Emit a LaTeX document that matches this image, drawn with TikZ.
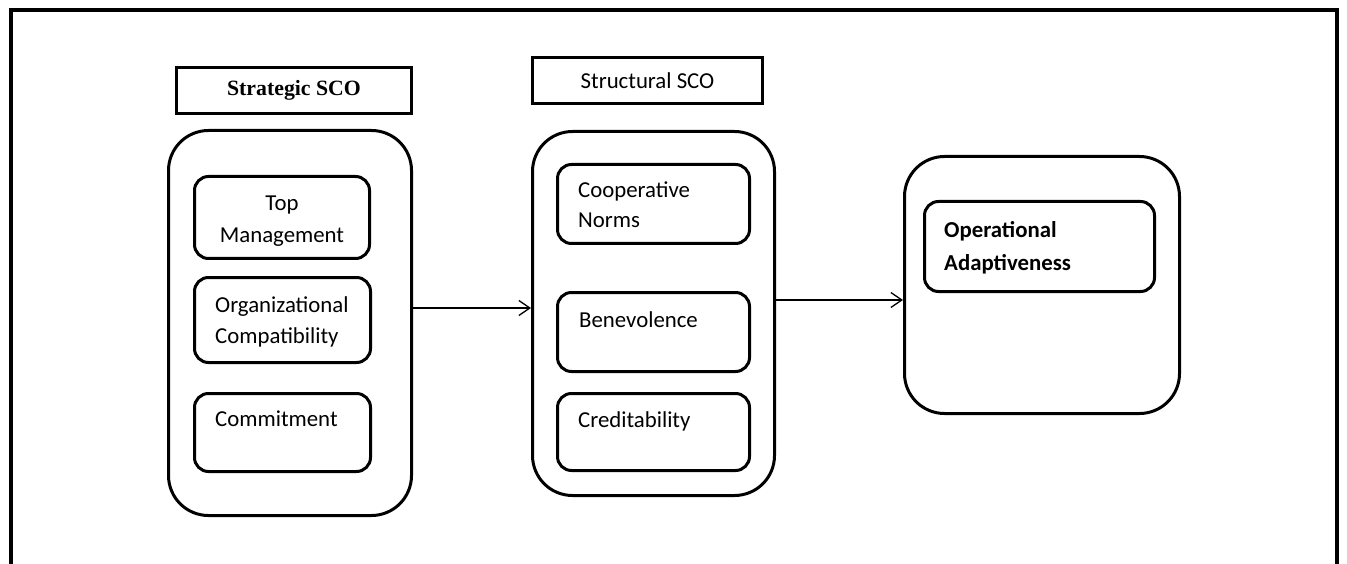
\documentclass[tikz,border=0pt]{standalone}
\usepackage{fontspec}
\setmainfont{Carlito}
\newfontfamily\headfont{Liberation Serif}
\usetikzlibrary{arrows.meta}

\begin{document}
\begin{tikzpicture}[x=1pt,y=-1pt,>={Straight Barb[length=11pt,width=15pt]}]
\tikzstyle{frame} = [draw=black, line width=4pt]
\tikzstyle{heading} = [rectangle, draw=black, line width=3pt, inner sep=0pt]
\tikzstyle{group} = [rectangle, rounded corners=40pt, draw=black, line width=3pt]
\tikzstyle{factor} = [rectangle, rounded corners=14pt, draw=black, line width=3pt]
\tikzstyle{factortext} = [anchor=base west, inner sep=0pt, align=left, font=\fontsize{22.8}{31}\selectfont]
\tikzstyle{link} = [->, line width=1.3pt]

\useasboundingbox (0,0) rectangle (1347,564);
\draw[frame] (11,10) rectangle (1337,566);

% strategic column
\node(strategicHead) [heading, minimum width=235pt, minimum height=46pt,
  font=\headfont\bfseries\fontsize{21.8}{26}\selectfont] at (294,90.5) {Strategic SCO};
\node(strategicGroup) [group, minimum width=243pt, minimum height=385pt] at (290,323) {};
\node(topMgmt) [factor, minimum width=175pt, minimum height=82pt] at (282,217.5) {};
\node(orgCompat) [factor, minimum width=176pt, minimum height=85pt] at (282.5,320) {};
\node(commitment) [factor, minimum width=176pt, minimum height=78pt] at (282.5,432.5) {};
\node(topMgmtText) [factortext, font=\fontsize{22.8}{32}\selectfont, anchor=base, align=center] at (282,243) {Top\\Management};
\node(orgCompatText) [factortext] at (215,343) {Organizational\\Compatibility};
\node(commitmentText) [factortext] at (215,426) {Commitment};

% structural column
\node(structuralHead) [heading, minimum width=230pt, minimum height=46pt,
  font=\fontsize{22.8}{26}\selectfont] at (647.5,80.5) {Structural SCO};
\node(structuralGroup) [group, minimum width=242pt, minimum height=364pt] at (653.5,313.5) {};
\node(coopNorms) [factor, minimum width=192pt, minimum height=79pt] at (653.5,204) {};
\node(benevolence) [factor, minimum width=192pt, minimum height=79pt] at (653.5,332) {};
\node(creditability) [factor, minimum width=192pt, minimum height=77pt] at (653.5,432) {};
\node(coopNormsText) [factortext, font=\fontsize{22.8}{30}\selectfont] at (578,228) {Cooperative\\Norms};
\node(benevolenceText) [factortext] at (579,327) {Benevolence};
\node(creditabilityText) [factortext] at (578,427) {Creditability};

% outcome
\node(operationalGroup) [group, minimum width=275pt, minimum height=257pt] at (1042,285) {};
\node(opAdapt) [factor, minimum width=230pt, minimum height=90pt] at (1039.5,246.5) {};
\node(opAdaptText) [factortext, font=\bfseries\fontsize{22.8}{34}\selectfont] at (944,271)
  {Operational\\Adaptiveness};

\draw[link] ([yshift=15pt]strategicGroup.east) -- ([yshift=15pt]strategicGroup.east -| structuralGroup.west);
\draw[link] ([yshift=13.5pt]structuralGroup.east) -- ([yshift=13.5pt]structuralGroup.east -| operationalGroup.west);
\end{tikzpicture}
\end{document}
